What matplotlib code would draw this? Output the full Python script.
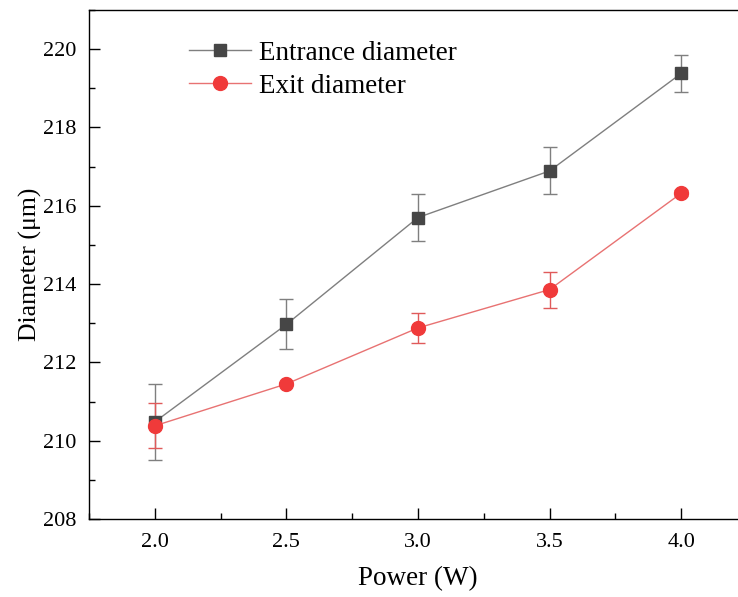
import matplotlib.pyplot as plt
from matplotlib.ticker import MultipleLocator

plt.rcParams['font.family'] = ['Liberation Serif', 'DejaVu Serif']

power = [2.0, 2.5, 3.0, 3.5, 4.0]
entrance = [210.48, 212.97, 215.70, 216.89, 219.38]
entrance_err = [0.97, 0.64, 0.61, 0.60, 0.48]
exit_d = [210.38, 211.45, 212.88, 213.86, 216.32]
exit_err = [0.57, 0.04, 0.38, 0.46, 0.07]

fig = plt.figure(figsize=(7.38, 5.97), dpi=100)
ax = fig.add_axes([89 / 738, 78 / 597, 658 / 738, 509 / 597])

ax.errorbar(power, entrance, yerr=entrance_err, color='#7f7f7f', lw=1.0,
            marker='s', ms=9, mfc='#464646', mec='#464646',
            ecolor='#7f7f7f', elinewidth=1.0, capsize=5, capthick=1.0,
            label='Entrance diameter')
ax.errorbar(power, exit_d, yerr=exit_err, color='#e87272', lw=1.0,
            marker='o', ms=10, mfc='#f03a3a', mec='#f03a3a',
            ecolor='#e05a5a', elinewidth=1.0, capsize=5, capthick=1.0,
            label='Exit diameter')

ax.set_xlim(1.75, 4.25)
ax.set_ylim(208, 221)
ax.xaxis.set_major_locator(MultipleLocator(0.5))
ax.xaxis.set_minor_locator(MultipleLocator(0.25))
ax.yaxis.set_major_locator(MultipleLocator(2))
ax.yaxis.set_minor_locator(MultipleLocator(1))
ax.tick_params(which='both', direction='in', labelsize=16, width=1.0)
ax.tick_params(axis='x', pad=10)
ax.tick_params(axis='y', pad=9)
ax.tick_params(which='major', length=8)
ax.tick_params(which='minor', length=4)
for s in ax.spines.values():
    s.set_linewidth(1.0)

ax.set_xlabel('Power (W)', fontsize=19.5, labelpad=10)
ax.set_ylabel('Diameter (μm)', fontsize=18.5, labelpad=1)

handles, labels = ax.get_legend_handles_labels()
handles = [h[0] for h in handles]
ax.legend(handles, labels, loc='upper left', bbox_to_anchor=(0.152, 0.94),
          frameon=False, fontsize=19.5, handlelength=2.3, handletextpad=0.3,
          labelspacing=0.3, borderpad=0, borderaxespad=0)

fig.savefig('out.png', dpi=100)
